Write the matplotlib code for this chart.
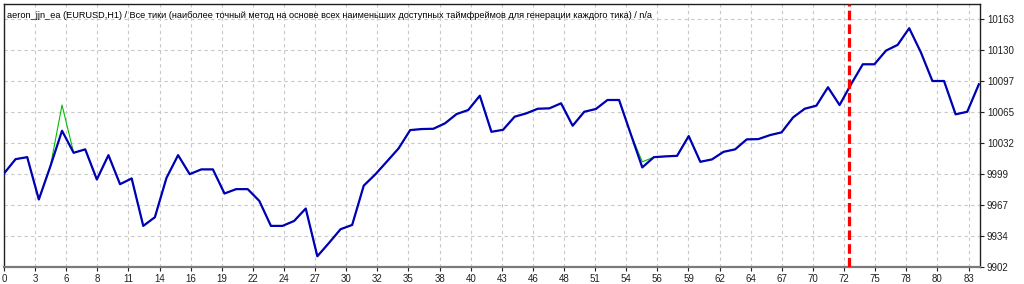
import matplotlib
matplotlib.use("Agg")
import matplotlib.pyplot as plt

plt.rcParams["font.family"] = ["Liberation Sans", "DejaVu Sans"]

# balance curve (blue), one value per trade
balance = [10000.5, 10015.6, 10017.7, 9973.1, 10008.2, 10045.5, 10022.3, 10025.9, 9994.2, 10019.8,
           9989.2, 9995.3, 9945.3, 9954.4, 9995.8, 10019.8, 9999.8, 10004.8, 10004.8, 9979.4,
           9984.0, 9984.0, 9971.6, 9945.3, 9945.3, 9950.5, 9963.6, 9913.3, 9927.3, 9941.8,
           9946.3, 9987.7, 9999.6, 10013.2, 10026.9, 10046.2, 10047.3, 10047.6, 10053.3, 10063.1,
           10067.3, 10082.4, 10044.4, 10046.5, 10060.3, 10063.8, 10068.7, 10069.1, 10074.4, 10050.8,
           10065.5, 10068.4, 10077.9, 10077.9, 10042.3, 10006.9, 10017.7, 10018.5, 10019.1, 10039.9,
           10012.8, 10015.3, 10023.3, 10025.9, 10036.4, 10036.7, 10040.9, 10043.8, 10059.6, 10068.7,
           10071.9, 10091.3, 10072.6, 10094.7, 10115.5, 10115.5, 10129.9, 10135.9, 10153.5, 10128.2,
           10097.9, 10097.9, 10062.8, 10065.5, 10094.4]

# equity (green) only differs from balance at a couple of trades
equity = list(balance)
equity[5] = 10072.6
equity[55] = 10012.8

x_labels = ["0", "3", "6", "8", "11", "14", "16", "19", "22", "24", "27", "30", "32", "35", "38", "40",
            "43", "46", "48", "51", "54", "56", "59", "62", "64", "67", "70", "72", "75", "78", "80", "83"]
y_labels = ["9902", "9934", "9967", "9999", "10032", "10065", "10097", "10130", "10163"]

split_at = 72.84  # start of forward test
title = ("aeron_jjn_ea (EURUSD,H1) / Все тики (наиболее точный метод на основе всех наименьших "
         "доступных таймфреймов для генерации каждого тика) / n/a")

fig = plt.figure(figsize=(10.24, 2.84), dpi=100)
ax = fig.add_axes([4 / 1024, 1 - 267 / 284, 976 / 1024, 263 / 284])

trades = range(len(balance))
ax.plot(trades, equity, color="#00c000", lw=0.8, zorder=2)
ax.plot(trades, balance, color="#0000b4", lw=1.6, zorder=3)
ax.axvline(split_at, color="#ff0000", lw=2.3, dashes=(3, 1.3), zorder=4)

step = 2.681
ax.set_xticks([k * step for k in range(len(x_labels))])
ax.set_xticklabels(x_labels)
ystep = 32.625
ax.set_yticks([9902 + k * ystep for k in range(len(y_labels))])
ax.set_yticklabels(y_labels)

ax.set_xlim(0, 84.1)
ax.set_ylim(9902, 10179)

ax.yaxis.tick_right()
ax.tick_params(axis="both", labelsize=7, length=3, width=0.8, colors="#202020", pad=2)
ax.grid(True, color="#c8c8c8", linestyle=(0, (3, 3)), lw=0.8)
for s in ax.spines.values():
    s.set_color("#202020")
    s.set_linewidth(1.0)
ax.spines["bottom"].set_color("#7a7a7a")
ax.spines["bottom"].set_linewidth(1.6)

ax.text(0.003, 0.975, title, transform=ax.transAxes, fontsize=6.6, va="top", ha="left")

fig.savefig("out.png", dpi=100)
